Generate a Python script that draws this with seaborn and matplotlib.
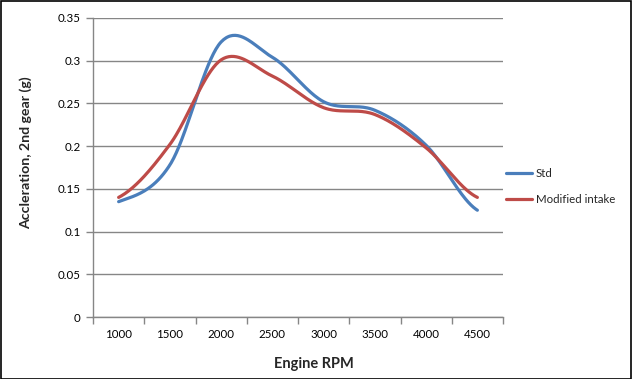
import numpy as np
import pandas as pd
import matplotlib
matplotlib.use("Agg")
import matplotlib.pyplot as plt
import seaborn as sns
from matplotlib.patches import Rectangle
from matplotlib.lines import Line2D

# ---- data ----
rpm_labels = ["1000", "1500", "2000", "2500", "3000", "3500", "4000", "4500"]
std_vals = [0.135, 0.178, 0.322, 0.304, 0.252, 0.242, 0.201, 0.125]
mod_vals = [0.140, 0.202, 0.301, 0.282, 0.245, 0.237, 0.198, 0.140]
series_names = ["Std", "Modified intake"]
colors = ["#4A7EBB", "#BE4B48"]
y_ticks = [0, 0.05, 0.1, 0.15, 0.2, 0.25, 0.3, 0.35]
y_tick_labels = ["0", "0.05", "0.1", "0.15", "0.2", "0.25", "0.3", "0.35"]


def smooth(vals, n=40):
    """Excel-like smoothed line (Catmull-Rom / cubic Bezier through the points)."""
    p = np.asarray(vals, dtype=float)
    ext = np.concatenate([[p[0]], p, [p[-1]]])
    xs, ys = [], []
    for i in range(len(p) - 1):
        p0, p1, p2, p3 = ext[i], ext[i + 1], ext[i + 2], ext[i + 3]
        m1 = (p2 - p0) / 2.0
        m2 = (p3 - p1) / 2.0
        t = np.linspace(0, 1, n, endpoint=(i == len(p) - 2))
        h00 = 2 * t**3 - 3 * t**2 + 1
        h10 = t**3 - 2 * t**2 + t
        h01 = -2 * t**3 + 3 * t**2
        h11 = t**3 - t**2
        xs.append(i + t)
        ys.append(h00 * p1 + h10 * m1 + h01 * p2 + h11 * m2)
    return np.concatenate(xs), np.concatenate(ys)


frames = []
for name, vals in zip(series_names, [std_vals, mod_vals]):
    sx, sy = smooth(vals)
    frames.append(pd.DataFrame({"x": sx, "y": sy, "series": name}))
df = pd.concat(frames, ignore_index=True)

sns.set_style("white")
plt.rcParams["font.family"] = ["Lato", "DejaVu Sans"]

W, H = 632, 379
fig = plt.figure(figsize=(W / 100, H / 100), dpi=100)
ax = fig.add_axes([93 / W, 1 - 317 / H, (503 - 93) / W, (317 - 18) / H])

sns.lineplot(data=df, x="x", y="y", hue="series", hue_order=series_names,
             palette=colors, linewidth=2.3, ax=ax, legend=False, sort=False,
             estimator=None)

ax.set_xlim(-0.5, len(rpm_labels) - 0.5)
ax.set_ylim(0, 0.35)
ax.set_yticks(y_ticks)
ax.set_yticklabels(y_tick_labels)
ax.set_xticks(range(len(rpm_labels)))
ax.set_xticklabels(rpm_labels)
ax.set_xticks(np.arange(-0.5, len(rpm_labels)), minor=True)

grid_c = "#868686"
ax.yaxis.grid(True, color=grid_c, linewidth=1)
ax.xaxis.grid(False)
for s in ["top", "right"]:
    ax.spines[s].set_visible(False)
for s in ["left", "bottom"]:
    ax.spines[s].set_color(grid_c)
    ax.spines[s].set_linewidth(1)

ax.tick_params(axis="x", which="major", length=0, pad=9, labelsize=8.3, colors="black")
ax.tick_params(axis="x", which="minor", length=5, color=grid_c, width=1, direction="out")
ax.tick_params(axis="y", which="major", length=5, color=grid_c, width=1, direction="out",
               pad=4, labelsize=8.3, labelcolor="black")
ax.tick_params(bottom=True, left=True)
ax.xaxis.set_tick_params(which="minor", bottom=True)

ax.set_xlabel("")
ax.set_ylabel("")
fig.text(314 / W, 1 - 364 / H, "Engine RPM", fontsize=10.5, fontweight="bold",
         ha="center", va="center")
fig.text(26 / W, 1 - 153 / H, "Accleration, 2nd gear (g)", fontsize=10.2,
         fontweight="bold", ha="center", va="center", rotation=90)

handles = [Line2D([0], [0], color=c, linewidth=2.3) for c in colors]
fig.legend(handles, series_names, loc="upper left",
           bbox_to_anchor=(504 / W, 1 - 166 / H), frameon=False, fontsize=8.3,
           handlelength=2.2, handletextpad=0.35, labelspacing=1.25,
           borderaxespad=0, borderpad=0.2)

fig.add_artist(Rectangle((0.5 / W, 0.5 / H), (W - 1.5) / W, (H - 1.5) / H,
                         transform=fig.transFigure, fill=False,
                         edgecolor="black", linewidth=1.2))

fig.savefig("out.png", dpi=100)
